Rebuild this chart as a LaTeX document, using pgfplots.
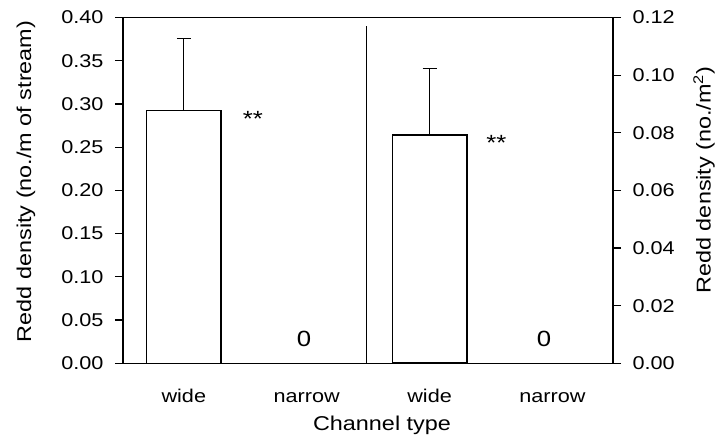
\documentclass[border=0pt]{standalone}
\usepackage{fontspec}
\setmainfont[FakeStretch=1.17]{Liberation Sans}
\usepackage{pgfplots}
\pgfplotsset{compat=1.18}
\begin{document}
\begin{tikzpicture}
\path[use as bounding box] (-123bp,-72.7bp) rectangle (597bp,363.3bp);
\begin{axis}[
  at={(0,0)}, anchor=south west, scale only axis,
  width=490bp, height=345.8bp,
  xmin=-0.4947, xmax=3.4923, ymin=0, ymax=0.4,
  xtick={0,1,2,3}, xticklabels={wide,narrow,wide,narrow},
  major x tick style={draw=none},
  xticklabel style={anchor=base, yshift=-31bp},
  ytick={0,0.05,0.1,0.15,0.2,0.25,0.3,0.35,0.4},
  ytick pos=left, tick align=outside, major tick length=8bp,
  yticklabel style={xshift=-8bp, /pgf/number format/.cd, fixed, fixed zerofill, precision=2},
  /pgf/number format/assume math mode=true,
  tick label style={font=\fontsize{18.5bp}{20bp}\selectfont, black},
  label style={font=\fontsize{20bp}{23bp}\selectfont},
  axis line style={line width=1.6bp},
  tick style={line width=1.2bp, black},
  ylabel={Redd density (no./m of stream)},
  ylabel style={at={(axis description cs:-0.198,0.526)}, anchor=center},
  xlabel={Channel type},
  xlabel style={at={(axis description cs:0.5286,-0.1938)}, anchor=base},
  clip=false,
]
\addplot[ybar, bar width=74.2bp, fill=white, draw=black, line width=1.6bp,
  error bars/.cd, y dir=plus, y explicit,
  error bar style={line width=1.4bp, black},
  error mark=|, error mark options={line width=1.4bp, mark size=7bp, black}]
  coordinates {(0,0.2922) +- (0,0.0837)};
\addplot[black, line width=1.1bp] coordinates {(1.488,0) (1.488,0.390)};
\node[anchor=base, font=\fontsize{22bp}{24bp}\selectfont] at (axis cs:0.563,0.2736) {**};
\node[anchor=base, font=\fontsize{22bp}{24bp}\selectfont] at (axis cs:2.543,0.2462) {**};
\node[anchor=base, font=\fontsize{22bp}{24bp}\selectfont] at (axis cs:0.978,0.0200) {0};
\node[anchor=base, font=\fontsize{22bp}{24bp}\selectfont] at (axis cs:2.931,0.0200) {0};
\end{axis}
\begin{axis}[
  at={(0,0)}, anchor=south west, scale only axis,
  width=490bp, height=345.8bp,
  xmin=-0.4947, xmax=3.4923, ymin=0, ymax=0.12,
  axis x line=none, axis y line*=right,
  ytick={0,0.02,0.04,0.06,0.08,0.1,0.12},
  tick align=outside, major tick length=8bp,
  yticklabel style={xshift=8bp, /pgf/number format/.cd, fixed, fixed zerofill, precision=2},
  /pgf/number format/assume math mode=true,
  tick label style={font=\fontsize{18.5bp}{20bp}\selectfont, black},
  label style={font=\fontsize{20bp}{23bp}\selectfont},
  axis line style={line width=1.6bp},
  tick style={line width=1.2bp, black},
  ylabel={Redd density (no./m\textsuperscript{2})},
  ylabel style={at={(axis description cs:1.186,0.53)}, anchor=center},
  clip=false,
]
\addplot[ybar, bar width=74.2bp, fill=white, draw=black, line width=1.6bp,
  error bars/.cd, y dir=plus, y explicit,
  error bar style={line width=1.4bp, black},
  error mark=|, error mark options={line width=1.4bp, mark size=7bp, black}]
  coordinates {(2,0.0792) +- (0,0.0232)};
\end{axis}
\end{tikzpicture}
\end{document}
